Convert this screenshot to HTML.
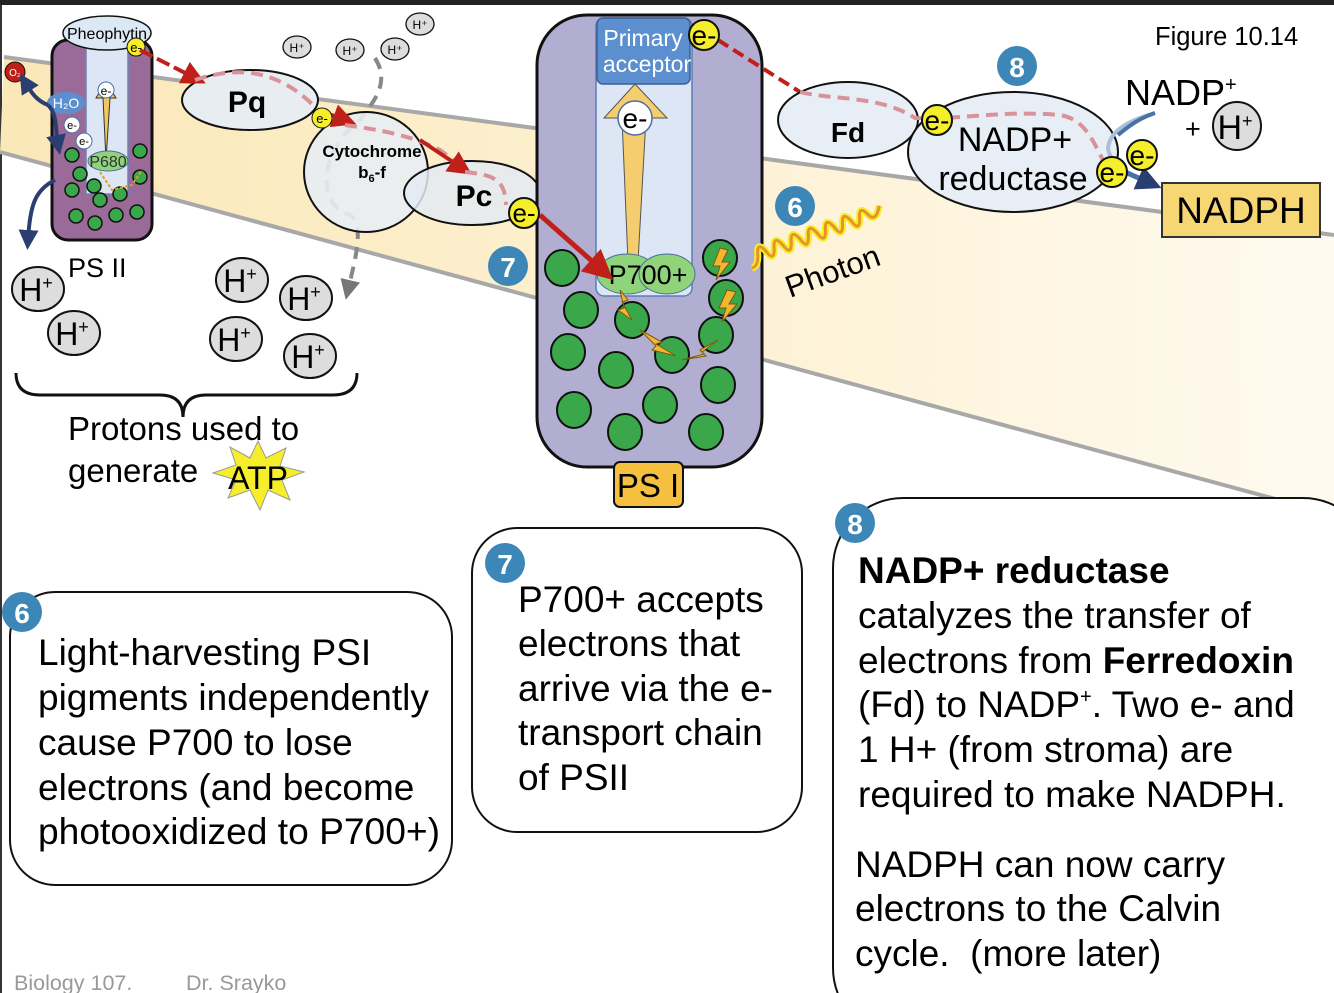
<!DOCTYPE html>
<html><head><meta charset="utf-8"><style>
html,body{margin:0;padding:0;background:#fff;}
svg{display:block;font-family:"Liberation Sans",Arial,sans-serif;}
</style></head><body>
<svg width="1334" height="993" viewBox="0 0 1334 993" xmlns="http://www.w3.org/2000/svg">
<defs>
<linearGradient id="mem" x1="0" y1="0" x2="1" y2="0">
<stop offset="0" stop-color="#fbe8b8"/><stop offset="0.5" stop-color="#fdf1d2"/><stop offset="1" stop-color="#fffaf0"/>
</linearGradient>
<marker id="ar" markerWidth="6" markerHeight="6" refX="3" refY="3" orient="auto"><path d="M0,0 L6,3 L0,6z" fill="#c0201a"/></marker>
<marker id="ab" markerWidth="5" markerHeight="5" refX="2.5" refY="2.5" orient="auto"><path d="M0,0 L5,2.5 L0,5z" fill="#2a3f70"/></marker>
<marker id="ag" markerWidth="5" markerHeight="5" refX="2.5" refY="2.5" orient="auto"><path d="M0,0 L5,2.5 L0,5z" fill="#777"/></marker>
</defs>
<rect x="0" y="0" width="1334" height="5" fill="#222"/>
<rect x="0" y="5" width="2" height="988" fill="#333"/>
<polygon points="4,57 1334,235 1334,515 0,152" fill="url(#mem)"/>
<line x1="4" y1="57" x2="1334" y2="235" stroke="#a8a8a8" stroke-width="4"/>
<line x1="0" y1="152" x2="1334" y2="515" stroke="#a8a8a8" stroke-width="4"/>

<rect x="52" y="40" width="100" height="200" rx="16" fill="#9a6b98" stroke="#111" stroke-width="3"/>
<rect x="86" y="44" width="42" height="150" fill="#dde6f4" stroke="#6a86b8" stroke-width="1.5"/>
<ellipse cx="107" cy="33" rx="44" ry="17" fill="#dce8f4" stroke="#111" stroke-width="1.5"/>
<text x="107" y="39" font-size="16" text-anchor="middle">Pheophytin</text>
<path d="M106,160 L103,98 L96,98 L106,82 L116,98 L110,98 Z" fill="#f2c760" stroke="#333" stroke-width="1"/>
<circle cx="106" cy="90" r="8" fill="#fff" stroke="#4a6fa0"/><text x="106" y="95" font-size="12" text-anchor="middle">e-</text>
<g fill="#3aa84a" stroke="#111" stroke-width="1.5">
<circle cx="72" cy="155" r="7"/><circle cx="80" cy="174" r="7"/><circle cx="72" cy="190" r="7"/><circle cx="94" cy="186" r="7"/>
<circle cx="100" cy="200" r="7"/><circle cx="76" cy="216" r="7"/><circle cx="95" cy="223" r="7"/><circle cx="116" cy="215" r="7"/>
<circle cx="137" cy="212" r="7"/><circle cx="140" cy="151" r="7"/><circle cx="140" cy="177" r="7"/><circle cx="120" cy="194" r="7"/>
</g>
<ellipse cx="108" cy="161" rx="20" ry="10" fill="#8fd47a" stroke="#4a6fa0"/>
<text x="108" y="167" font-size="16" text-anchor="middle" fill="#333">P680</text>
<path d="M100,172 L112,190 L132,185 L142,170" fill="none" stroke="#e0a020" stroke-width="2" stroke-dasharray="3,2"/>
<circle cx="15" cy="72" r="10" fill="#c0201a" stroke="#111"/><text x="15" y="76" font-size="10" fill="#fff" text-anchor="middle">O₂</text>
<ellipse cx="66" cy="103" rx="19" ry="11" fill="#5b8fd0"/><text x="66" y="108" font-size="14" fill="#fff" text-anchor="middle">H₂O</text>
<circle cx="72" cy="125" r="8" fill="#fff" stroke="#4a6fa0"/><text x="72" y="129" font-size="11" text-anchor="middle">e-</text>
<circle cx="84" cy="141" r="8" fill="#fff" stroke="#4a6fa0"/><text x="84" y="145" font-size="11" text-anchor="middle">e-</text>
<path d="M48,105 C35,100 30,90 25,82" fill="none" stroke="#2a3f70" stroke-width="4" marker-end="url(#ab)"/>
<path d="M48,105 C58,115 55,130 58,145" fill="none" stroke="#2a3f70" stroke-width="4" marker-end="url(#ab)"/>
<path d="M55,180 C35,190 30,205 28,240" fill="none" stroke="#2a3f70" stroke-width="4" marker-end="url(#ab)"/>
<text x="68" y="277" font-size="27">PS II</text>
<circle cx="136" cy="47" r="9" fill="#f5ee2a" stroke="#111"/><text x="136" y="52" font-size="13" text-anchor="middle">e-</text>

<g fill="#ddd" stroke="#111" stroke-width="1.3">
<ellipse cx="297" cy="47" rx="14" ry="11"/><ellipse cx="350" cy="50" rx="14" ry="11"/><ellipse cx="395" cy="49" rx="14" ry="11"/><ellipse cx="420" cy="24" rx="14" ry="11"/>
</g>
<g font-size="12" text-anchor="middle"><text x="297" y="52">H⁺</text><text x="350" y="55">H⁺</text><text x="395" y="54">H⁺</text><text x="420" y="29">H⁺</text></g>

<path d="M375,58 C392,85 370,105 360,120 C320,150 315,205 350,215 C365,225 355,260 348,290" fill="none" stroke="#888" stroke-width="4" stroke-dasharray="12,8" marker-end="url(#ag)"/>

<ellipse cx="250" cy="100" rx="68" ry="30" fill="#e8edf2" stroke="#111" stroke-width="2"/>
<text x="247" y="112" font-size="30" font-weight="bold" text-anchor="middle">Pq</text>
<ellipse cx="366" cy="172" rx="62" ry="60" fill="#e8edf2" fill-opacity="0.9" stroke="#111" stroke-width="2"/>
<ellipse cx="472" cy="193" rx="68" ry="32" fill="#e4eaf2" fill-opacity="0.85" stroke="#111" stroke-width="2"/>
<text x="372" y="157" font-size="17" font-weight="bold" text-anchor="middle">Cytochrome</text>
<text x="372" y="178" font-size="17" font-weight="bold" text-anchor="middle">b<tspan font-size="11" dy="4">6</tspan><tspan dy="-4">-f</tspan></text>
<text x="474" y="206" font-size="30" font-weight="bold" text-anchor="middle">Pc</text>
<path d="M140,50 L195,78" stroke="#c0201a" stroke-width="4" stroke-dasharray="14,5" marker-end="url(#ar)"/>
<path d="M195,80 C240,65 280,70 318,110" fill="none" stroke="#d8939a" stroke-width="4" stroke-dasharray="12,7"/>
<path d="M318,110 L345,120" stroke="#c0201a" stroke-width="4" marker-end="url(#ar)"/>
<path d="M345,125 C380,130 410,135 440,150 L460,165" fill="none" stroke="#d8939a" stroke-width="4" stroke-dasharray="12,7"/>
<path d="M420,140 L462,168" stroke="#c0201a" stroke-width="4" marker-end="url(#ar)"/>
<path d="M465,172 C495,175 505,180 506,205" fill="none" stroke="#d8939a" stroke-width="4" stroke-dasharray="12,7"/>
<circle cx="322" cy="118" r="10" fill="#f5ee2a" stroke="#111"/><text x="322" y="123" font-size="13" text-anchor="middle">e-</text>

<g fill="#ddd" stroke="#111" stroke-width="2">
<ellipse cx="38" cy="289" rx="26" ry="22"/><ellipse cx="74" cy="333" rx="26" ry="22"/><ellipse cx="242" cy="280" rx="26" ry="22"/>
<ellipse cx="306" cy="298" rx="26" ry="22"/><ellipse cx="236" cy="339" rx="26" ry="22"/><ellipse cx="310" cy="356" rx="26" ry="22"/>
</g>
<g font-size="32" text-anchor="middle">
<text x="36" y="301">H<tspan font-size="18" dy="-12">+</tspan></text>
<text x="72" y="345">H<tspan font-size="18" dy="-12">+</tspan></text>
<text x="240" y="292">H<tspan font-size="18" dy="-12">+</tspan></text>
<text x="304" y="310">H<tspan font-size="18" dy="-12">+</tspan></text>
<text x="234" y="351">H<tspan font-size="18" dy="-12">+</tspan></text>
<text x="308" y="368">H<tspan font-size="18" dy="-12">+</tspan></text>
</g>
<path d="M16,373 Q16,395 40,395 L160,395 Q183,395 183,417 Q183,395 206,395 L333,395 Q357,395 357,373" fill="none" stroke="#111" stroke-width="3"/>
<text x="68" y="440" font-size="33">Protons used to</text>
<text x="68" y="482" font-size="33">generate</text>
<polygon points="258,441 266,458 286,448 280,466 304,472 282,480 290,500 268,490 260,510 250,490 228,498 236,480 213,473 236,465 230,447 250,458" fill="#f6ee2a" stroke="#999" stroke-width="1"/>
<text x="258" y="489" font-size="32" text-anchor="middle">ATP</text>

<circle cx="508" cy="266" r="20" fill="#3d87b8"/><text x="508" y="277" font-size="28" font-weight="bold" fill="#fff" text-anchor="middle">7</text>

<rect x="537" y="15" width="225" height="452" rx="50" fill="#b1aed2" stroke="#111" stroke-width="3"/>
<rect x="596" y="18" width="96" height="278" rx="8" fill="#dde6f4" stroke="#5b7fb8" stroke-width="1.5"/>
<rect x="597" y="18" width="93" height="66" rx="6" fill="#5b8fd0" stroke="#3b5f98" stroke-width="1.5"/>
<text x="643" y="46" font-size="23" fill="#fff" text-anchor="middle">Primary</text>
<text x="647" y="72" font-size="23" fill="#fff" text-anchor="middle">acceptor</text>
<path d="M628,262 L622,118 L604,118 L635,84 L667,118 L646,118 L638,262 Z" fill="#f6cd6e" stroke="#555" stroke-width="1"/>
<circle cx="635" cy="118" r="17" fill="#fff" stroke="#4a6fa0" stroke-width="1.5"/><text x="635" y="128" font-size="28" text-anchor="middle">e-</text>
<g fill="#3aa84a" stroke="#111" stroke-width="2">
<ellipse cx="562" cy="268" rx="17" ry="18"/><ellipse cx="581" cy="310" rx="17" ry="18"/><ellipse cx="568" cy="352" rx="17" ry="18"/>
<ellipse cx="616" cy="370" rx="17" ry="18"/><ellipse cx="574" cy="410" rx="17" ry="18"/><ellipse cx="625" cy="432" rx="17" ry="18"/>
<ellipse cx="660" cy="405" rx="17" ry="18"/><ellipse cx="718" cy="385" rx="17" ry="18"/><ellipse cx="706" cy="432" rx="17" ry="18"/>
<ellipse cx="632" cy="320" rx="17" ry="18"/><ellipse cx="672" cy="355" rx="17" ry="18"/><ellipse cx="716" cy="335" rx="17" ry="18"/>
<ellipse cx="726" cy="298" rx="17" ry="18"/><ellipse cx="720" cy="258" rx="17" ry="18"/>
</g>
<ellipse cx="627" cy="274" rx="30" ry="20" fill="#8fd47a" stroke="#4a6fa0"/>
<ellipse cx="667" cy="274" rx="28" ry="20" fill="#8fd47a" stroke="#4a6fa0"/>
<text x="648" y="284" font-size="27" text-anchor="middle">P700+</text>
<g fill="#f2b630" stroke="#7a5a10" stroke-width="1">
<polygon points="720,248 728,250 722,262 730,262 716,280 720,266 713,266"/>
<polygon points="727,290 736,292 729,304 737,304 722,322 726,308 719,308"/>
<polygon points="620,290 628,300 622,302 632,320 618,310 624,308"/>
<polygon points="640,330 662,342 656,344 676,356 652,350 656,346"/>
<polygon points="718,340 700,350 704,354 682,360 706,356 702,352"/>
</g>
<path d="M540,215 L602,270" stroke="#c0201a" stroke-width="5" marker-end="url(#ar)"/>
<circle cx="524" cy="213" r="15" fill="#f5ee2a" stroke="#111" stroke-width="2"/><text x="524" y="222" font-size="26" text-anchor="middle">e-</text>
<rect x="614" y="462" width="69" height="45" rx="6" fill="#f5c040" stroke="#111" stroke-width="2"/>
<text x="648" y="497" font-size="33" text-anchor="middle">PS I</text>

<path d="M718,40 L800,92" stroke="#c0201a" stroke-width="4" stroke-dasharray="12,6"/>
<ellipse cx="848" cy="120" rx="70" ry="38" fill="#e8eef6" stroke="#111" stroke-width="2"/>
<text x="848" y="142" font-size="28" font-weight="bold" text-anchor="middle">Fd</text>
<ellipse cx="1013" cy="152" rx="105" ry="60" fill="#e8eef6" stroke="#111" stroke-width="2"/>
<path d="M800,92 C830,100 880,95 915,118 C960,120 1000,110 1060,115 C1090,120 1095,150 1110,172" fill="none" stroke="#d8939a" stroke-width="4" stroke-dasharray="12,7"/>
<path d="M1155,113 C1130,120 1110,130 1108,148 C1110,165 1130,175 1150,182" fill="none" stroke="#aac0d8" stroke-width="4"/>
<path d="M1155,113 C1140,118 1130,125 1118,135" fill="none" stroke="#4a70a8" stroke-width="4"/>
<path d="M1125,172 L1150,183" stroke="#4a70a8" stroke-width="5" marker-end="url(#ab)"/>
<text x="1015" y="151" font-size="34" text-anchor="middle">NADP+</text>
<text x="1013" y="190" font-size="34" text-anchor="middle">reductase</text>
<circle cx="704" cy="35" r="15" fill="#f5ee2a" stroke="#111" stroke-width="2"/><text x="704" y="45" font-size="28" text-anchor="middle">e-</text>
<circle cx="937" cy="120" r="15" fill="#f5ee2a" stroke="#111" stroke-width="2"/><text x="937" y="130" font-size="28" text-anchor="middle">e-</text>
<circle cx="1112" cy="172" r="15" fill="#f5ee2a" stroke="#111" stroke-width="2"/><text x="1112" y="182" font-size="28" text-anchor="middle">e-</text>
<circle cx="1142" cy="155" r="15" fill="#f5ee2a" stroke="#111" stroke-width="2"/><text x="1142" y="165" font-size="28" text-anchor="middle">e-</text>
<circle cx="1017" cy="66" r="20" fill="#3d87b8"/><text x="1017" y="77" font-size="28" font-weight="bold" fill="#fff" text-anchor="middle">8</text>
<text x="1155" y="45" font-size="25.5">Figure 10.14</text>
<text x="1125" y="105" font-size="36">NADP<tspan font-size="20" dy="-14">+</tspan></text>
<text x="1185" y="138" font-size="27">+</text>
<circle cx="1237" cy="126" r="24" fill="#ddd" stroke="#111" stroke-width="2"/>
<text x="1235" y="139" font-size="34" text-anchor="middle">H<tspan font-size="18" dy="-12">+</tspan></text>
<rect x="1162" y="183" width="158" height="54" fill="#f7d774" stroke="#333" stroke-width="2"/>
<text x="1241" y="223" font-size="37" text-anchor="middle">NADPH</text>

<circle cx="795" cy="206" r="20" fill="#3d87b8"/><text x="795" y="217" font-size="28" font-weight="bold" fill="#fff" text-anchor="middle">6</text>
<g transform="translate(752,268) rotate(-13)">
<path d="M0,0 q7,0 9,-14 q2,-10 8,0 q6,14 9,0 q2,-14 9,-2 q6,14 9,0 q2,-14 9,-2 q6,14 9,0 q2,-14 9,-2 q6,14 9,0 q2,-14 9,-2 q6,14 9,0 q2,-14 9,-2 q6,14 9,0 q2,-14 9,-2 q6,10 13,-6" fill="none" stroke="#f5ee2a" stroke-width="7"/>
<path d="M0,0 q7,0 9,-14 q2,-10 8,0 q6,14 9,0 q2,-14 9,-2 q6,14 9,0 q2,-14 9,-2 q6,14 9,0 q2,-14 9,-2 q6,14 9,0 q2,-14 9,-2 q6,14 9,0 q2,-14 9,-2 q6,14 9,0 q2,-14 9,-2 q6,10 13,-6" fill="none" stroke="#e8922a" stroke-width="3"/>
</g>
<text x="790" y="298" font-size="31" transform="rotate(-20 790 298)">Photon</text>

<rect x="10" y="592" width="442" height="293" rx="45" fill="#fff" stroke="#111" stroke-width="2"/>
<circle cx="22" cy="612" r="20" fill="#3d87b8"/><text x="22" y="623" font-size="28" font-weight="bold" fill="#fff" text-anchor="middle">6</text>
<g font-size="37">
<text x="38" y="665">Light-harvesting PSI</text>
<text x="38" y="710">pigments independently</text>
<text x="38" y="755">cause P700 to lose</text>
<text x="38" y="800">electrons (and become</text>
<text x="38" y="844" textLength="402" lengthAdjust="spacingAndGlyphs">photooxidized to P700+)</text>
</g>
<rect x="472" y="528" width="330" height="304" rx="45" fill="#fff" stroke="#111" stroke-width="2"/>
<circle cx="505" cy="563" r="20" fill="#3d87b8"/><text x="505" y="574" font-size="28" font-weight="bold" fill="#fff" text-anchor="middle">7</text>
<g font-size="37">
<text x="518" y="612">P700+ accepts</text>
<text x="518" y="656">electrons that</text>
<text x="518" y="701">arrive via the e-</text>
<text x="518" y="745">transport chain</text>
<text x="518" y="790">of PSII</text>
</g>
<rect x="833" y="498" width="540" height="540" rx="70" fill="#fff" stroke="#111" stroke-width="2"/>
<circle cx="855" cy="523" r="20" fill="#3d87b8"/><text x="855" y="534" font-size="28" font-weight="bold" fill="#fff" text-anchor="middle">8</text>
<g font-size="37">
<text x="858" y="583" font-weight="bold">NADP+ reductase</text>
<text x="858" y="628">catalyzes the transfer of</text>
<text x="858" y="673">electrons from <tspan font-weight="bold">Ferredoxin</tspan></text>
<text x="858" y="717">(Fd) to NADP<tspan font-size="20" dy="-14">+</tspan><tspan dy="14">. Two e- and</tspan></text>
<text x="858" y="762">1 H+ (from stroma) are</text>
<text x="858" y="807">required to make NADPH.</text>
<text x="855" y="877">NADPH can now carry</text>
<text x="855" y="921">electrons to the Calvin</text>
<text x="855" y="966">cycle.&#160; (more later)</text>
</g>
<text x="14" y="990" font-size="21.5" fill="#999">Biology 107.</text>
<text x="186" y="990" font-size="21.5" fill="#999">Dr. Srayko</text>
</svg>
</body></html>
